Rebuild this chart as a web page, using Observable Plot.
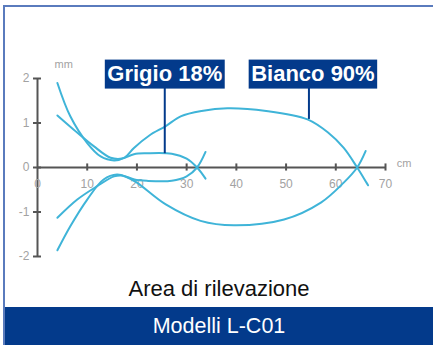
<!DOCTYPE html>
<html>
<head>
<meta charset="utf-8">
<script src="https://cdn.jsdelivr.net/npm/d3@7"></script>
<script src="https://cdn.jsdelivr.net/npm/@observablehq/plot@0.6"></script>
<style>
  html, body { margin: 0; padding: 0; background: #fff; }
  body { width: 433px; height: 345px; position: relative; overflow: hidden; font-family: "Liberation Sans", Arial, sans-serif; }
  #frame { position: absolute; left: 3px; top: 5px; width: 428px; height: 338px; border-top: 2px solid #5a7bbd; border-left: 2px solid #5a7bbd; }
  #chart { position: absolute; left: 0; top: 0; }
  #caption { position: absolute; left: 0; width: 428px; top: 269px; height: 26px; line-height: 26px; text-align: center; font-size: 22px; color: #111; }
  #band { position: absolute; left: 0; width: 428px; top: 300px; height: 38px; line-height: 38px; background: #033a8b; color: #fff; text-align: center; font-size: 21.5px; }
</style>
</head>
<body>
<div id="frame">
  <div id="chart"></div>
  <div id="caption"></div>
  <div id="band"></div>
</div>
<script>
// ---- data ----
const xTicks = [0, 10, 20, 30, 40, 50, 60, 70];
const yTicks = [-2, -1, 0, 1, 2];
const xUnit = "cm";
const yUnit = "mm";
const captionText = "Area di rilevazione";
const bandText = "Modelli L-C01";

// Grigio 18% (small loop)
const grigioUpper = [[4,1.17],[7.3,0.85],[11.3,0.48],[14.7,0.22],[17,0.2],[19.4,0.3],[22,0.32],[27,0.31],[30,0.2],[32.1,0],[33.8,-0.25]];
const grigioLower = [[4,-1.13],[8,-0.72],[12,-0.42],[15.4,-0.2],[17,-0.18],[19.5,-0.27],[22,-0.3],[27,-0.3],[30,-0.2],[32.1,0],[33.8,0.35]];
// Bianco 90% (big loop)
const biancoUpper = [[4,1.9],[6.6,1.15],[10,0.55],[12.7,0.25],[15.4,0.16],[17.5,0.22],[19.4,0.44],[22.5,0.72],[25.8,0.93],[28.8,1.15],[33,1.27],[38.2,1.33],[46,1.27],[54.3,1.08],[58.5,0.78],[61.6,0.44],[64.3,0],[66.5,-0.4]];
const biancoLower = [[4,-1.86],[6.6,-1.32],[10,-0.72],[13.3,-0.27],[16,-0.16],[18,-0.22],[20,-0.34],[25.8,-0.83],[32.8,-1.2],[39.5,-1.3],[49.6,-1.17],[57,-0.79],[61.6,-0.34],[64.3,0],[66,0.37]];

// annotations
const annLabels = ["Grigio 18%", "Bianco 90%"];
const annBoxX = [25.6, 55.4];
const annLeaderX = [25.6, 54.6];
const annTipY = [0.31, 1.08];
const annBoxY = [2.1, 2.1];

// ---- build ----
const curves = [
  {name: "grigioUpper", pts: grigioUpper},
  {name: "grigioLower", pts: grigioLower},
  {name: "biancoUpper", pts: biancoUpper},
  {name: "biancoLower", pts: biancoLower}
].flatMap(c => c.pts.map(([x, y]) => ({curve: c.name, x, y})));

const ann = annLabels.map((label, i) => ({label, bx: annBoxX[i], lx: annLeaderX[i], tip: annTipY[i], by: annBoxY[i]}));

const axisColor = "#555";
const tickLabelColor = "#a2a2a2";
const curveColor = "#3fb4d8";
const boxColor = "#033a8b";

const plot = Plot.plot({
  width: 428,
  height: 268,
  marginLeft: 32,
  marginRight: 48,
  marginTop: 71,
  marginBottom: 19,
  x: {domain: [0, 70], axis: null},
  y: {domain: [-2, 2], axis: null},
  style: {fontFamily: "'Liberation Sans', Arial, sans-serif", background: "transparent", overflow: "visible"},
  marks: [
    // axes
    Plot.ruleY([0], {x1: xTicks[0], x2: xTicks[xTicks.length - 1], stroke: axisColor, strokeWidth: 2}),
    Plot.ruleX([0], {y1: yTicks[0], y2: yTicks[yTicks.length - 1], stroke: axisColor, strokeWidth: 2}),
    Plot.ruleX(xTicks.slice(1), {x: d => d, y1: -0.08, y2: 0.08, stroke: axisColor, strokeWidth: 2}),
    Plot.ruleY(yTicks, {y: d => d, x1: -0.8, x2: 0.8, stroke: axisColor, strokeWidth: 2}),
    Plot.text(xTicks, {x: d => d, y: 0, text: d => String(d), dy: 17, fill: tickLabelColor, fontSize: 12}),
    Plot.text(yTicks, {x: 0, y: d => d, text: d => String(d), dx: -8, textAnchor: "end", fill: tickLabelColor, fontSize: 12}),
    Plot.text([yUnit], {frameAnchor: "top-left", text: d => d, dx: 17, dy: -18, fill: tickLabelColor, fontSize: 11}),
    Plot.text([xUnit], {frameAnchor: "right", text: d => d, dx: 26, dy: -4, fill: tickLabelColor, fontSize: 11}),
    // curves
    Plot.line(curves, {x: "x", y: "y", z: "curve", stroke: curveColor, strokeWidth: 2, curve: "catmull-rom"}),
    // leader lines
    Plot.ruleX(ann, {x: "lx", y1: "tip", y2: "by", stroke: boxColor, strokeWidth: 2}),
    // labels
    Plot.text(ann, {x: "bx", y: "by", text: "label", fill: "#fff", fontSize: 22, fontWeight: "bold", className: "annlabel"})
  ]
});

document.getElementById("chart").appendChild(plot);
document.getElementById("caption").textContent = captionText;
document.getElementById("band").textContent = bandText;

// boxes behind annotation labels
const svgNS = "http://www.w3.org/2000/svg";
plot.querySelectorAll("g.annlabel text").forEach(t => {
  const b = t.getBBox();
  const r = document.createElementNS(svgNS, "rect");
  const padX = 2.5, padY = 2.5;
  r.setAttribute("x", b.x - padX);
  r.setAttribute("y", b.y - padY + 1);
  r.setAttribute("width", b.width + 2 * padX);
  r.setAttribute("height", b.height + 2 * padY - 1);
  r.setAttribute("fill", boxColor);
  if (t.getAttribute("transform")) r.setAttribute("transform", t.getAttribute("transform"));
  t.parentNode.insertBefore(r, t);
});
</script>
</body>
</html>
